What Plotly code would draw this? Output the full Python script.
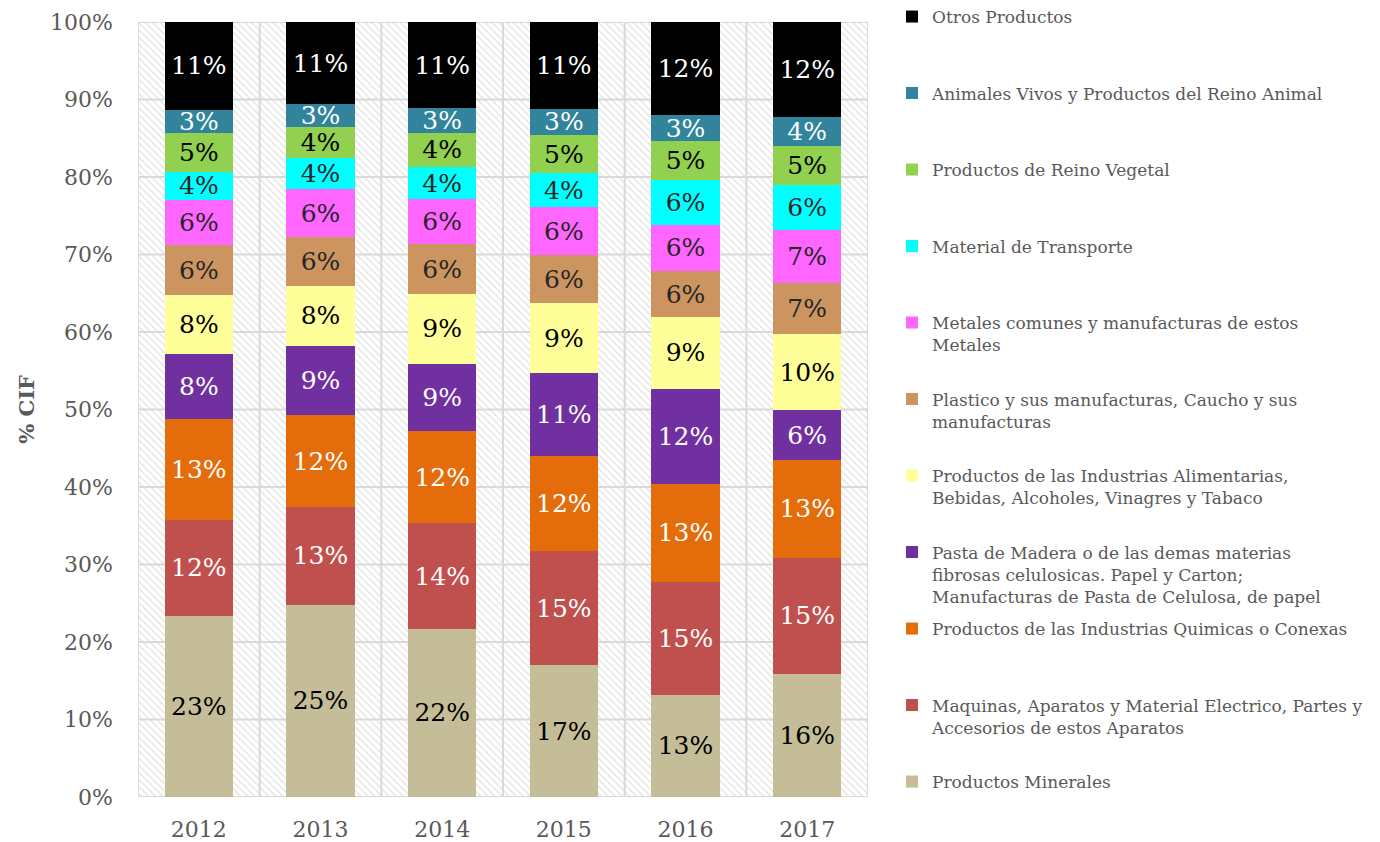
import plotly.graph_objects as go

years = ["2012", "2013", "2014", "2015", "2016", "2017"]

# series (percent of CIF), bottom to top of stack
minerales = [23.4, 24.8, 21.7, 17.0, 13.2, 15.9]
maquinas = [12.4, 12.6, 13.6, 14.7, 14.6, 15.0]
quimicas = [13.0, 11.9, 11.9, 12.3, 12.6, 12.6]
pasta = [8.4, 8.9, 8.7, 10.7, 12.3, 6.4]
alimentarias = [7.6, 7.8, 9.0, 9.0, 9.2, 9.8]
plastico = [6.4, 6.3, 6.4, 6.2, 6.0, 6.6]
metales = [5.8, 6.1, 5.8, 6.2, 5.9, 6.8]
transporte = [3.7, 4.1, 4.2, 4.4, 5.8, 5.9]
vegetal = [5.0, 4.0, 4.4, 4.9, 5.0, 5.0]
animal = [3.0, 2.9, 3.2, 3.4, 3.4, 3.8]
otros = [11.3, 10.6, 11.1, 11.2, 12.0, 12.2]

names = [
    "Productos Minerales",
    "Maquinas, Aparatos y Material Electrico, Partes y<br>Accesorios de estos Aparatos",
    "Productos de las Industrias Quimicas o Conexas",
    "Pasta de Madera o de las demas materias<br>fibrosas celulosicas. Papel y Carton;<br>Manufacturas de Pasta de Celulosa, de papel",
    "Productos de las Industrias Alimentarias,<br>Bebidas, Alcoholes, Vinagres y Tabaco",
    "Plastico y sus manufacturas, Caucho y sus<br>manufacturas",
    "Metales comunes y manufacturas de estos<br>Metales",
    "Material de Transporte",
    "Productos de Reino Vegetal",
    "Animales Vivos y Productos del Reino Animal",
    "Otros Productos",
]
series = [minerales, maquinas, quimicas, pasta, alimentarias, plastico,
          metales, transporte, vegetal, animal, otros]
colors = ["#C4BD97", "#C0504D", "#E46C0A", "#7030A0", "#FFFF99", "#CC9560",
          "#FF66FF", "#00FFFF", "#92D050", "#31849B", "#000000"]
text_colors = ["#000000", "#FFFFFF", "#FFFFFF", "#FFFFFF", "#000000", "#262626",
               "#262626", "#262626", "#000000", "#FFFFFF", "#FFFFFF"]

FONT = "DejaVu Serif"
GRAY = "#595959"
GRID = "#D9D9D9"

# page offset of the figure (browser body margin) and plot box in page pixels
OFF = 8
PLOT_L, PLOT_R, PLOT_T, PLOT_B = 138, 868, 22, 797
W, H = 1380 - OFF, 842 - OFF

xs = list(range(len(years)))
fig = go.Figure()

# hatched plot-area background
fig.add_trace(go.Bar(
    x=xs, y=[100] * len(years), width=1, xaxis="x", yaxis="y",
    marker=dict(color="white", line=dict(width=0),
                pattern=dict(shape="\\", fgcolor="#BDBDBD", bgcolor="white",
                             size=5, solidity=0.22)),
    showlegend=False, hoverinfo="skip",
))

# gridlines drawn above the hatch
for v in range(0, 101, 10):
    fig.add_trace(go.Scatter(x=[-0.5, len(years) - 0.5], y=[v, v], mode="lines",
                             line=dict(color=GRID, width=2), showlegend=False,
                             hoverinfo="skip", xaxis="x", yaxis="y"))
for i in range(len(years) + 1):
    fig.add_trace(go.Scatter(x=[i - 0.5, i - 0.5], y=[0, 100], mode="lines",
                             line=dict(color=GRID, width=2), showlegend=False,
                             hoverinfo="skip", xaxis="x", yaxis="y"))

n = len(series)
pw, ph = PLOT_R - PLOT_L, PLOT_B - PLOT_T
legend_layout = {}
for k, (nm, vals, col, tcol) in enumerate(zip(names, series, colors, text_colors)):
    rank = n - 1 - k  # 0 = top legend entry
    lname = "legend" if rank == 0 else f"legend{rank + 1}"
    fig.add_trace(go.Bar(
        x=xs, y=vals, name=nm, width=0.56, xaxis="x2", yaxis="y2",
        marker=dict(color=col, line=dict(width=0)),
        text=[f"{v:.0f}%" for v in vals], textposition="inside",
        insidetextanchor="middle", textangle=0,
        textfont=dict(family=FONT, size=25, color=tcol),
        legend=lname, hoverinfo="skip",
    ))
    center_px = 17 + rank * 76.5
    top_page = center_px - 18
    legend_layout[lname] = dict(
        x=(892 - PLOT_L) / pw, y=(PLOT_B - top_page) / ph,
        xref="paper", yref="paper",
        xanchor="left", yanchor="top", valign="top",
        bgcolor="rgba(0,0,0,0)", borderwidth=0, itemwidth=30,
        font=dict(family=FONT, size=17, color=GRAY),
    )

fig.update_layout(
    width=W, height=H,
    margin=dict(l=PLOT_L - OFF, r=1380 - PLOT_R, t=PLOT_T - OFF, b=842 - PLOT_B,
                autoexpand=False),
    paper_bgcolor="white", plot_bgcolor="white",
    barmode="stack",
    uniformtext=dict(minsize=25, mode="show"),
    font=dict(family=FONT, color=GRAY),
    xaxis=dict(range=[-0.5, len(years) - 0.5], tickvals=xs, ticktext=years,
               showgrid=False, zeroline=False, showline=False, ticks="",
               automargin=False,
               tickfont=dict(family=FONT, size=22, color=GRAY),
               ticklabelstandoff=17),
    yaxis=dict(range=[0, 100], dtick=10, ticksuffix="%", showgrid=False,
               zeroline=False, showline=False, ticks="", automargin=False,
               tickfont=dict(family=FONT, size=22, color=GRAY),
               ticklabelstandoff=24,
               title=dict(text="<b>% CIF</b>", standoff=9,
                          font=dict(family=FONT, size=21, color=GRAY))),
    xaxis2=dict(overlaying="x", matches="x", visible=False),
    yaxis2=dict(overlaying="y", matches="y", visible=False),
    **legend_layout,
)

fig.write_html("out.html")
